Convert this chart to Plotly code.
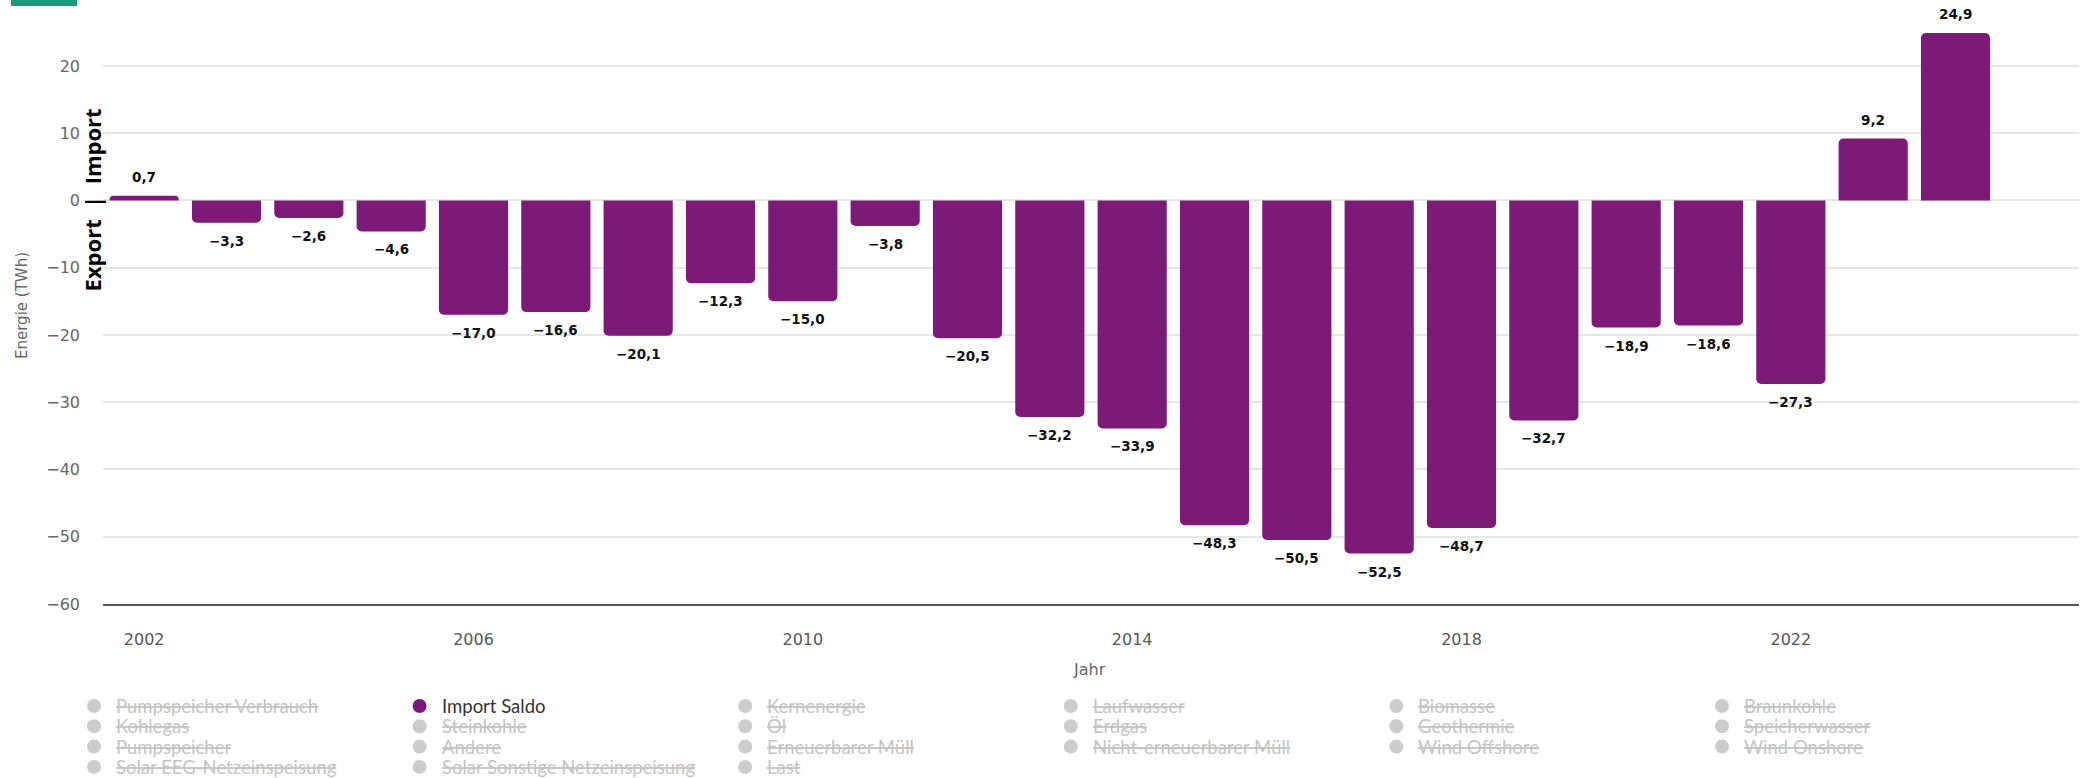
import plotly.graph_objects as go

# ---- data ----
years = list(range(2002, 2025))
import_saldo = [0.7, -3.3, -2.6, -4.6, -17.0, -16.6, -20.1, -12.3, -15.0, -3.8,
                -20.5, -32.2, -33.9, -48.3, -50.5, -52.5, -48.7, -32.7, -18.9,
                -18.6, -27.3, 9.2, 24.9]
legend_names = [
    "Pumpspeicher Verbrauch", "Import Saldo", "Kernenergie", "Laufwasser", "Biomasse", "Braunkohle",
    "Kohlegas", "Steinkohle", "Öl", "Erdgas", "Geothermie", "Speicherwasser",
    "Pumpspeicher", "Andere", "Erneuerbarer Müll", "Nicht-erneuerbarer Müll", "Wind Offshore", "Wind Onshore",
    "Solar EEG-Netzeinspeisung", "Solar Sonstige Netzeinspeisung", "Last",
]
active_series = "Import Saldo"
y_ticks = [20, 10, 0, -10, -20, -30, -40, -50, -60]
x_ticks = [2002, 2006, 2010, 2014, 2018, 2022]

PURPLE = "#7d1a78"
W, H = 2087, 778
ML, MR, MT, MB = 103, 8, 0, 174
PW = W - ML - MR
PH = H - MT - MB


def fmt(v):
    return f"{v:.1f}".replace(".", ",").replace("-", "\u2212")


fig = go.Figure()
fig.add_trace(go.Bar(
    x=years, y=import_saldo, name="Import Saldo", width=0.84,
    marker=dict(color=PURPLE, cornerradius=5, line=dict(width=0)),
    showlegend=False, hoverinfo="x+y",
))

annotations = []
for x, v in zip(years, import_saldo):
    annotations.append(dict(
        x=x, y=v, text=fmt(v), showarrow=False,
        yshift=19 if v >= 0 else -18,
        font=dict(family="DejaVu Sans", size=13.5, color="#111", weight="bold"),
    ))

# Export | Import label
annotations.append(dict(
    xref="paper", x=0, xshift=-11, xanchor="center", yanchor="middle", y=0,
    text="Export  |  Import", textangle=-90, showarrow=False,
    font=dict(family="Open Sans", size=22, color="#000", weight="bold"),
))
# axis titles
annotations.append(dict(
    xref="paper", yref="paper", x=0, xshift=-81, xanchor="center", yanchor="middle",
    y=(PH - 306) / PH, text="Energie (TWh)", textangle=-90, showarrow=False,
    font=dict(family="DejaVu Sans", size=15, color="#666"),
))
annotations.append(dict(
    xref="paper", yref="paper", x=(1089 - ML) / PW, y=(PH - 669) / PH,
    xanchor="center", yanchor="middle", text="Jahr", showarrow=False,
    font=dict(family="DejaVu Sans", size=16, color="#666"),
))

shapes = [dict(
    type="rect", xref="paper", yref="paper",
    x0=(11 - ML) / PW, x1=(77 - ML) / PW, y0=(PH - 6) / PH, y1=1.0,
    fillcolor="#1a9c7a", line=dict(width=0), layer="above",
)]

# legend (drawn as a grid of entries)
col_w = 325.6
for i, name in enumerate(legend_names):
    row, col = divmod(i, 6)
    mx = 94 + col * col_w
    my = 706 + row * 20.3
    active = name == active_series
    shapes.append(dict(
        type="circle", xref="paper", yref="paper",
        xsizemode="pixel", ysizemode="pixel",
        xanchor=(mx - ML) / PW, yanchor=(PH - my) / PH,
        x0=-7, x1=7, y0=-7, y1=7,
        fillcolor=PURPLE if active else "#cccccc", line=dict(width=0),
    ))
    annotations.append(dict(
        xref="paper", yref="paper", x=(mx + 20 - ML) / PW, y=(PH - my) / PH,
        xanchor="left", yanchor="middle", showarrow=False,
        text=name if active else f"<s>{name}</s>",
        font=dict(family="Lato", size=18.5, color="#333" if active else "#c4c4c4"),
    ))

fig.update_layout(
    width=W, height=H,
    margin=dict(l=ML, r=MR, t=MT, b=MB),
    paper_bgcolor="white", plot_bgcolor="white",
    showlegend=False,
    xaxis=dict(
        range=[2001.5, 2025.5], tickvals=x_ticks, showgrid=False,
        showline=True, linecolor="#555", linewidth=2,
        ticks="", ticklabelstandoff=20,
        tickfont=dict(family="DejaVu Sans", size=16, color="#555"),
    ),
    yaxis=dict(
        range=[-60, 29.8], tickvals=y_ticks,
        ticktext=[str(t).replace("-", "\u2212") for t in y_ticks],
        showgrid=True, gridcolor="#e6e6e6", gridwidth=1.5,
        zeroline=True, zerolinecolor="#e6e6e6", zerolinewidth=1.5,
        ticks="", ticklabelstandoff=22,
        tickfont=dict(family="DejaVu Sans", size=16, color="#666"),
    ),
    annotations=annotations,
    shapes=shapes,
)

fig.write_html(
    "out.html",
    config={"displayModeBar": False},
    post_script="document.body.style.margin='0';document.body.style.overflow='hidden';",
)
